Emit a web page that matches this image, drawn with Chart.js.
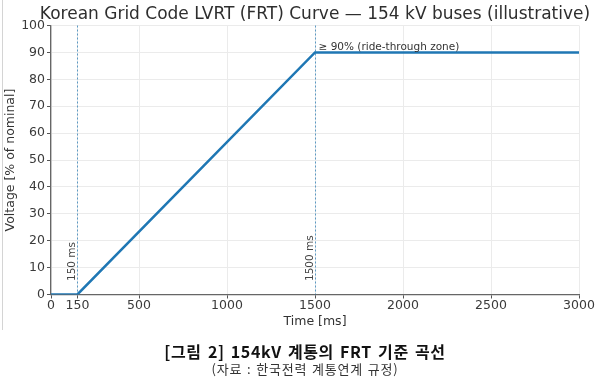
<!DOCTYPE html>
<html><head><meta charset="utf-8">
<script src="https://cdn.jsdelivr.net/npm/chart.js@4.4.1/dist/chart.umd.min.js"></script>
<style>
html,body{margin:0;padding:0;background:#fff;}
#wrap{position:relative;width:600px;height:380px;overflow:hidden;background:#fff;}
#c{position:absolute;left:0;top:0;}
#edge{position:absolute;left:2px;top:0;width:1px;height:330px;background:#d4d4d4;}
#title{position:absolute;left:15px;top:3px;width:600px;text-align:center;white-space:nowrap;
  font-family:"DejaVu Sans",sans-serif;font-size:17px;line-height:20px;color:#2e2e2e;}
.cap{position:absolute;left:5px;width:600px;text-align:center;font-family:"Noto Sans CJK KR",sans-serif;white-space:nowrap;}
#cap1{top:340px;line-height:22px;font-size:16px;font-weight:bold;color:#111;letter-spacing:0.6px;word-spacing:2px;}
#cap2{top:360px;line-height:17px;font-size:13px;color:#333;letter-spacing:0.8px;word-spacing:1px;}
</style></head>
<body><div id="wrap"><canvas id="c" width="600" height="380"></canvas><div id="edge"></div>
<div id="title"></div>
<div class="cap" id="cap1">[그림 2] 154kV 계통의 FRT 기준 곡선</div>
<div class="cap" id="cap2">(자료 : 한국전력 계통연계 규정)</div></div>
<script>
// ---- data ----
const times = [0, 150, 1500, 3000];
const voltage = [0, 0, 90, 90];
const xTicks = [0, 150, 500, 1000, 1500, 2000, 2500, 3000];
const yTicks = [0, 10, 20, 30, 40, 50, 60, 70, 80, 90, 100];
const markerTimes = [150, 1500];
const markerLabels = ['150 ms', '1500 ms'];
const zoneTime = 1500;
const zoneLevel = 90;
const zoneLabel = '\u2265 90% (ride-through zone)';
const titleText = 'Korean Grid Code LVRT (FRT) Curve \u2014 154 kV buses (illustrative)';

document.getElementById('title').textContent = titleText;

const FONT = '"DejaVu Sans", sans-serif';

const annot = {
  id: 'annot',
  beforeDatasetsDraw(chart) {
    const {ctx, chartArea: a, scales: {x}} = chart;
    ctx.save();
    ctx.strokeStyle = 'rgba(31,119,180,0.7)';
    ctx.lineWidth = 1;
    ctx.setLineDash([2, 2]);
    markerTimes.forEach(t => {
      const px = Math.round(x.getPixelForValue(t)) + 0.5;
      ctx.beginPath(); ctx.moveTo(px, a.top); ctx.lineTo(px, a.bottom); ctx.stroke();
    });
    ctx.restore();
  },
  afterDatasetsDraw(chart) {
    const {ctx, scales: {x, y}} = chart;
    ctx.save();
    ctx.font = '10.5px ' + FONT;
    ctx.fillStyle = '#444';
    markerTimes.forEach((t, i) => {
      const px = x.getPixelForValue(t) - 2;
      const py = y.getPixelForValue(5);
      ctx.save();
      ctx.translate(px, py);
      ctx.rotate(-Math.PI / 2);
      ctx.textAlign = 'left';
      ctx.textBaseline = 'alphabetic';
      ctx.fillText(markerLabels[i], 0, 0);
      ctx.restore();
    });
    ctx.textAlign = 'left';
    ctx.textBaseline = 'alphabetic';
    ctx.fillStyle = '#333';
    ctx.fillText(zoneLabel, x.getPixelForValue(zoneTime + 20), y.getPixelForValue(zoneLevel + 1));
    ctx.restore();
  }
};

const tickFmt = v => String(v);

new Chart(document.getElementById('c'), {
  type: 'line',
  data: {
    datasets: [{
      data: times.map((t, i) => ({x: t, y: voltage[i]})),
      borderColor: '#1f77b4',
      borderWidth: 2.5,
      pointRadius: 0,
      tension: 0,
      fill: false
    }]
  },
  options: {
    responsive: false,
    animation: false,
    devicePixelRatio: 1,
    layout: {padding: {left: 0, right: 21, top: 25.5, bottom: 50}},
    plugins: {
      legend: {display: false},
      tooltip: {enabled: false},
      title: {display: false}
    },
    scales: {
      x: {
        type: 'linear', min: 0, max: 3000,
        afterBuildTicks: s => { s.ticks = xTicks.map(v => ({value: v})); },
        afterFit: s => { s.height = 35.5; },
        grid: {color: '#ebebeb', tickColor: '#555', tickLength: 4, lineWidth: 1},
        border: {color: '#666', width: 1.3},
        ticks: {color: '#3a3a3a', font: {family: FONT, size: 12.5}, padding: 0, maxRotation: 0, autoSkip: false, callback: tickFmt},
        title: {display: true, text: 'Time [ms]', color: '#333', font: {family: FONT, size: 12.5, lineHeight: 1.2}, padding: {top: 0, bottom: 1.2}}
      },
      y: {
        type: 'linear', min: 0, max: 100,
        afterBuildTicks: s => { s.ticks = yTicks.map(v => ({value: v})); },
        afterFit: s => { s.width = 51; },
        grid: {color: '#ebebeb', tickColor: '#555', tickLength: 4, lineWidth: 1},
        border: {color: '#666', width: 1.3},
        ticks: {color: '#3a3a3a', font: {family: FONT, size: 12.5}, padding: 2, callback: tickFmt},
        title: {display: true, text: 'Voltage [% of nominal]', color: '#333', font: {family: FONT, size: 12.5, lineHeight: 1.2}, padding: {top: 3.2, bottom: 0}}
      }
    }
  },
  plugins: [annot]
});
</script>
</body></html>
